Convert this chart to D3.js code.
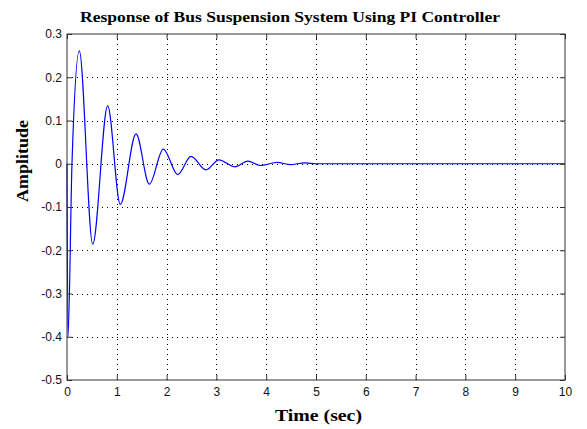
<!DOCTYPE html>
<html>
<head>
<meta charset="utf-8">
<script src="https://cdn.jsdelivr.net/npm/d3@7"></script>
<style>
  body { margin: 0; background: #fff; }
  .tick text { font-family: Arial, "Liberation Sans", sans-serif; font-size: 12px; fill: #111; }
  .grid line { stroke: #000; stroke-dasharray: 1,4; }
  .lbl { font-family: "Liberation Serif", "Times New Roman", serif; font-weight: bold; fill: #000; }
</style>
</head>
<body>
<div id="chart"></div>
<script>
// values (time in sec, amplitude)
var times = [0, 0.02, 0.1, 0.247, 0.516, 0.817, 1.07, 1.386, 1.653, 1.934, 2.223, 2.49, 2.79, 3.05, 3.37, 3.63, 3.88, 4.22, 4.48, 4.78, 5.0, 10];
var amps  = [0, -0.40, 0, 0.261, -0.186, 0.134, -0.094, 0.069, -0.047, 0.034, -0.025, 0.017, -0.014, 0.009, -0.007, 0.006, -0.004, 0.003, -0.002, 0.002, 0, 0];
var xTicks = [0, 1, 2, 3, 4, 5, 6, 7, 8, 9, 10];
var yTicks = [-0.5, -0.4, -0.3, -0.2, -0.1, 0, 0.1, 0.2, 0.3];
var yTickLabels = ["-0.5", "-0.4", "-0.3", "-0.2", "-0.1", "0", "0.1", "0.2", "0.3"];
var titleText = "Response of Bus Suspension System Using PI Controller";
var xLabel = "Time (sec)";
var yLabel = "Amplitude";

var width = 587, height = 429;
var margin = {top: 34, right: 22, bottom: 49, left: 67};

var svg = d3.select("#chart").append("svg")
    .attr("width", width)
    .attr("height", height);

var x = d3.scaleLinear().domain([0, 10]).range([margin.left, width - margin.right]);
var y = d3.scaleLinear().domain([-0.5, 0.3]).range([height - margin.bottom, margin.top]);

// grid
var grid = svg.append("g").attr("class", "grid");
grid.selectAll(".gx").data(xTicks.slice(1, -1)).enter().append("line")
    .attr("x1", d => Math.round(x(d)) + 0.5).attr("x2", d => Math.round(x(d)) + 0.5)
    .attr("y1", y(0.3)).attr("y2", y(-0.5));
grid.selectAll(".gy").data(yTicks.slice(1, -1)).enter().append("line")
    .attr("y1", d => Math.round(y(d)) + 0.5).attr("y2", d => Math.round(y(d)) + 0.5)
    .attr("x1", x(0)).attr("x2", x(10));

// response line
var pts = times.map((t, i) => [t, amps[i]]);
var line = d3.line()
    .x(d => x(d[0]))
    .y(d => y(d[1]))
    .curve(d3.curveMonotoneX);
svg.append("path")
    .datum(pts)
    .attr("fill", "none")
    .attr("stroke", "#0000ff")
    .attr("stroke-width", 1.2)
    .attr("d", line);

// axes, ticks pointing inwards
function styleAxis(g) {
    g.select(".domain").remove();
    g.selectAll(".tick line").attr("stroke", "#333");
}
svg.append("g")
    .attr("transform", `translate(0,${y(-0.5)})`)
    .call(d3.axisBottom(x).tickValues(xTicks).tickSizeInner(-5).tickPadding(7).tickFormat(d3.format("d")))
    .call(styleAxis);
svg.append("g")
    .attr("transform", `translate(0,${y(0.3)})`)
    .call(d3.axisTop(x).tickValues(xTicks).tickSizeInner(-5).tickFormat(""))
    .call(styleAxis);
svg.append("g")
    .attr("transform", `translate(${x(0)},0)`)
    .call(d3.axisLeft(y).tickValues(yTicks).tickSizeInner(-5).tickPadding(5)
        .tickFormat((d, i) => yTickLabels[i]))
    .call(styleAxis);
svg.append("g")
    .attr("transform", `translate(${x(10)},0)`)
    .call(d3.axisRight(y).tickValues(yTicks).tickSizeInner(-5).tickFormat(""))
    .call(styleAxis);

// box
svg.append("rect")
    .attr("x", x(0)).attr("y", y(0.3))
    .attr("width", x(10) - x(0)).attr("height", y(-0.5) - y(0.3))
    .attr("fill", "none").attr("stroke", "#333").attr("stroke-width", 1);

// labels
svg.append("text").attr("class", "lbl")
    .attr("x", 80).attr("y", 22)
    .attr("textLength", 420).attr("lengthAdjust", "spacingAndGlyphs")
    .style("font-size", "15px")
    .text(titleText);
svg.append("text").attr("class", "lbl")
    .attr("x", 275).attr("y", 421)
    .attr("textLength", 87).attr("lengthAdjust", "spacingAndGlyphs")
    .style("font-size", "17px")
    .text(xLabel);
svg.append("text").attr("class", "lbl")
    .attr("transform", "translate(28,202) rotate(-90)")
    .attr("textLength", 82).attr("lengthAdjust", "spacingAndGlyphs")
    .style("font-size", "17px")
    .text(yLabel);
</script>
</body>
</html>
